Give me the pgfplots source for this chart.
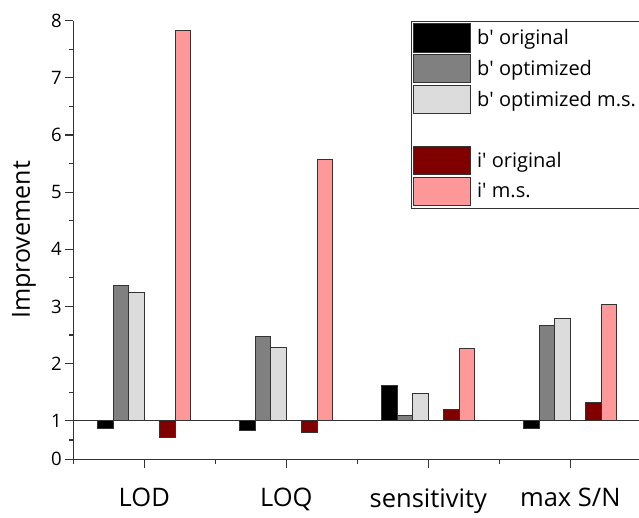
\documentclass[border=0pt]{standalone}
\usepackage{pgfplots}
\pgfplotsset{compat=1.18}
\usepackage{fontspec}
\setmainfont{Open Sans}
\definecolor{bgray}{HTML}{808080}
\definecolor{blight}{HTML}{DCDCDC}
\definecolor{idark}{HTML}{800000}
\definecolor{ipink}{HTML}{FF9999}
\definecolor{edge}{HTML}{333333}
\newcommand{\q}{\textquotesingle}
\pgfplotsset{
  swatch/.style={legend image code/.code={\draw[##1] (0pt,-14.2pt) rectangle (56.7pt,14.2pt);},
    draw=edge, line width=1pt},
}
\begin{document}
\begin{tikzpicture}
\useasboundingbox (-73.3pt,-57.7pt) rectangle (565.7pt,459.3pt);
\begin{axis}[
  scale only axis, width=568pt, height=438.6pt,
  xmin=-0.5, xmax=3.5, ymin=0, ymax=8,
  % the scale below 1 is squeezed, as in the original
  y coord trafo/.code={\pgfmathparse{#1>=1 ? #1-1 : (#1-1)*0.675}},
  ybar, bar width=15.5pt,
  axis lines*=left,
  axis line style={edge, line width=1.2pt},
  tick style={edge, line width=1.2pt},
  tick align=outside,
  major tick length=8.5pt, minor tick length=4.5pt,
  xtick={0,1,2,3},
  xticklabels={LOD,LOQ,sensitivity,max S/N},
  minor xtick={-0.5,0.5,1.5,2.5},
  ytick={0,1,2,3,4,5,6,7,8},
  yticklabels={0,1,2,3,4,5,6,7,8},
  minor ytick={0.5,1.5,2.5,3.5,4.5,5.5,6.5,7.5},
  extra y ticks={1}, extra y tick labels={},
  extra y tick style={grid=major, major grid style={edge, line width=1pt}},
  x tick label style={font=\fontsize{25.5}{30}\selectfont, yshift=-17pt},
  y tick label style={font=\fontsize{18.5}{22}\selectfont, xshift=0.5pt},
  ylabel={Improvement},
  ylabel style={font=\fontsize{25}{30}\selectfont, at={(axis description cs:-0.0868,0.5)}, anchor=center},
  legend style={at={(axis description cs:0.5945,1)}, anchor=north west,
    draw=edge, line width=1pt, font=\fontsize{20}{24}\selectfont,
    inner sep=2pt, row sep=1.5pt, cells={anchor=west},
    /tikz/every odd column/.append style={column sep=4pt}},
  legend cell align=left,
  clip=false,
]
\addplot[forget plot, fill=black, draw=edge, line width=1pt, bar shift=-38.75pt]
  coordinates {(0,0.79) (1,0.74) (2,1.61) (3,0.80)};
\addplot[forget plot, fill=bgray, draw=edge, line width=1pt, bar shift=-23.25pt]
  coordinates {(0,3.36) (1,2.48) (2,1.09) (3,2.67)};
\addplot[forget plot, fill=blight, draw=edge, line width=1pt, bar shift=-7.75pt]
  coordinates {(0,3.25) (1,2.28) (2,1.47) (3,2.79)};
\addplot[forget plot, fill=idark, draw=edge, line width=1pt, bar shift=23.25pt]
  coordinates {(0,0.57) (1,0.70) (2,1.19) (3,1.32)};
\addplot[forget plot, fill=ipink, draw=edge, line width=1pt, bar shift=38.75pt]
  coordinates {(0,7.82) (1,5.57) (2,2.27) (3,3.04)};
\addlegendimage{swatch, fill=black}
\addlegendentry{b\q{} original}
\addlegendimage{swatch, fill=bgray}
\addlegendentry{b\q{} optimized}
\addlegendimage{swatch, fill=blight}
\addlegendentry{b\q{} optimized m.s.}
\addlegendimage{legend image code/.code={\path[draw=none, fill=none] (0pt,-14.2pt) rectangle (56.7pt,14.2pt);}}
\addlegendentry{}
\addlegendimage{swatch, fill=idark}
\addlegendentry{i\q{} original}
\addlegendimage{swatch, fill=ipink}
\addlegendentry{i\q{} m.s.}
\end{axis}
\end{tikzpicture}
\end{document}
